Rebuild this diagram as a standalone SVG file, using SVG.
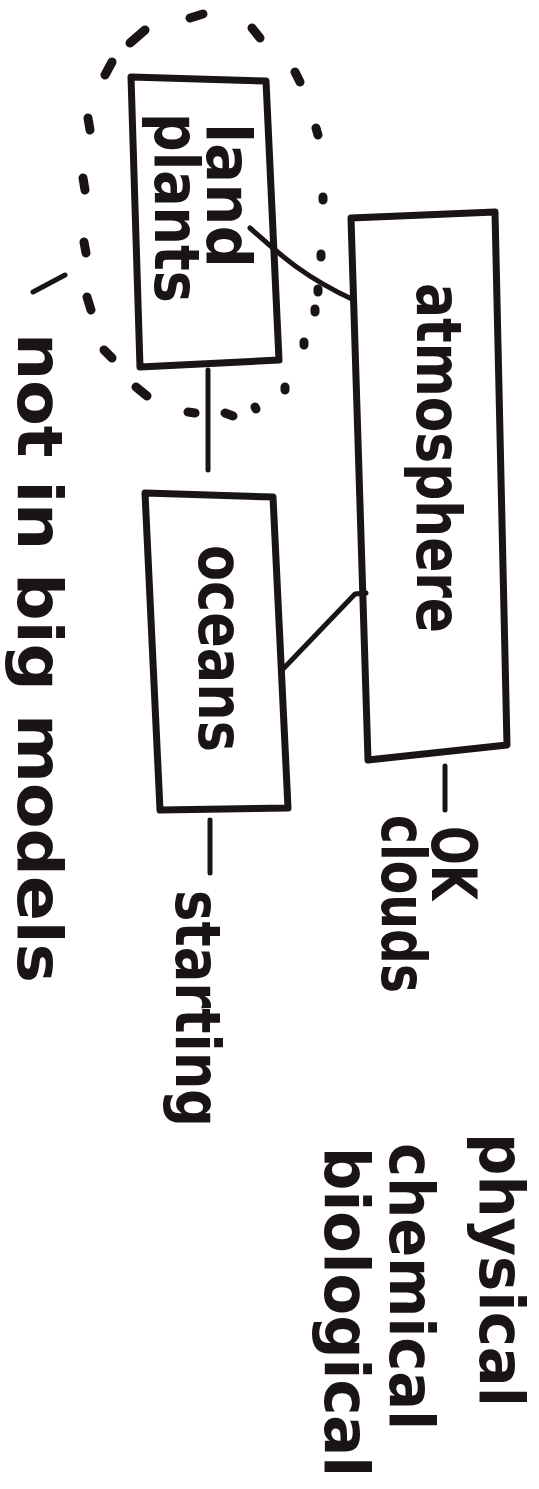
<svg xmlns="http://www.w3.org/2000/svg" width="539" height="1489" viewBox="0 0 539 1489">
<style>
.box{fill:none;stroke:#1a1414;stroke-width:7;stroke-linejoin:round;stroke-linecap:round}
.ln{fill:none;stroke:#1a1414;stroke-width:5;stroke-linecap:round;stroke-linejoin:round}
.dash{fill:none;stroke:#1a1414;stroke-width:9;stroke-linecap:round}
.t{font-family:"DejaVu Sans","Liberation Sans",sans-serif;font-weight:bold;font-size:62px;fill:#1a1414}
</style>
<rect width="539" height="1489" fill="#fff"/>
<g id="boundary">
<path class="dash" d="M190,18L203,14M130,43L145,30M252,28L260,38M105,75L112,62M295,72L300,82M88,118L90,130M316,128L318,135M83,178L85,190M323,197L323,200M84,242L86,253M321,254L321,257M87,297L91,310M318,289L318,292M315,309L315,312M104,350L112,358M304,342L304,345M136,387L147,396M285,387L285,390M188,412L195,413M225,413L233,416M255,407L256,409"/>
<path class="ln" d="M33,292L65,275"/>
</g>
<g id="connectors">
<path class="ln" d="M250,228C275,250 300,275 354,300"/>
<path class="ln" d="M208,370L208,470"/>
<path class="ln" d="M284,668L355,594L366,593"/>
<path class="ln" d="M445,766L445,810"/>
<path class="ln" d="M210,820L210,873"/>
</g>
<g id="land-plants">
<path class="box" d="M131,77L266,81L279,360L140,367Z"/>
<text class="t" transform="translate(207,123) rotate(90)" textLength="145" lengthAdjust="spacingAndGlyphs">land</text>
<text class="t" transform="translate(155,113) rotate(90)" textLength="190" lengthAdjust="spacingAndGlyphs">plants</text>
</g>
<g id="atmosphere">
<path class="box" d="M351,218L495,212L507,745L368,760Z"/>
<text class="t" transform="translate(417,283) rotate(90)" textLength="350" lengthAdjust="spacingAndGlyphs">atmosphere</text>
</g>
<g id="oceans">
<path class="box" d="M145,493L273,497L288,808L160,810Z"/>
<text class="t" transform="translate(199,545) rotate(90)" textLength="207" lengthAdjust="spacingAndGlyphs">oceans</text>
</g>
<g id="notes">
<text class="t" transform="translate(432,826) rotate(90)" textLength="74" lengthAdjust="spacingAndGlyphs">OK</text>
<text class="t" transform="translate(382,815) rotate(90)" textLength="178" lengthAdjust="spacingAndGlyphs">clouds</text>
<text class="t" transform="translate(176,890) rotate(90)" textLength="237" lengthAdjust="spacingAndGlyphs">starting</text>
<text class="t" transform="translate(18,333) rotate(90)" textLength="650" lengthAdjust="spacingAndGlyphs">not in big models</text>
<text class="t" transform="translate(480,1133) rotate(90)" textLength="274" lengthAdjust="spacingAndGlyphs">physical</text>
<text class="t" transform="translate(390,1143) rotate(90)" textLength="287" lengthAdjust="spacingAndGlyphs">chemical</text>
<text class="t" transform="translate(325,1147) rotate(90)" textLength="330" lengthAdjust="spacingAndGlyphs">biological</text>
</g>
</svg>
